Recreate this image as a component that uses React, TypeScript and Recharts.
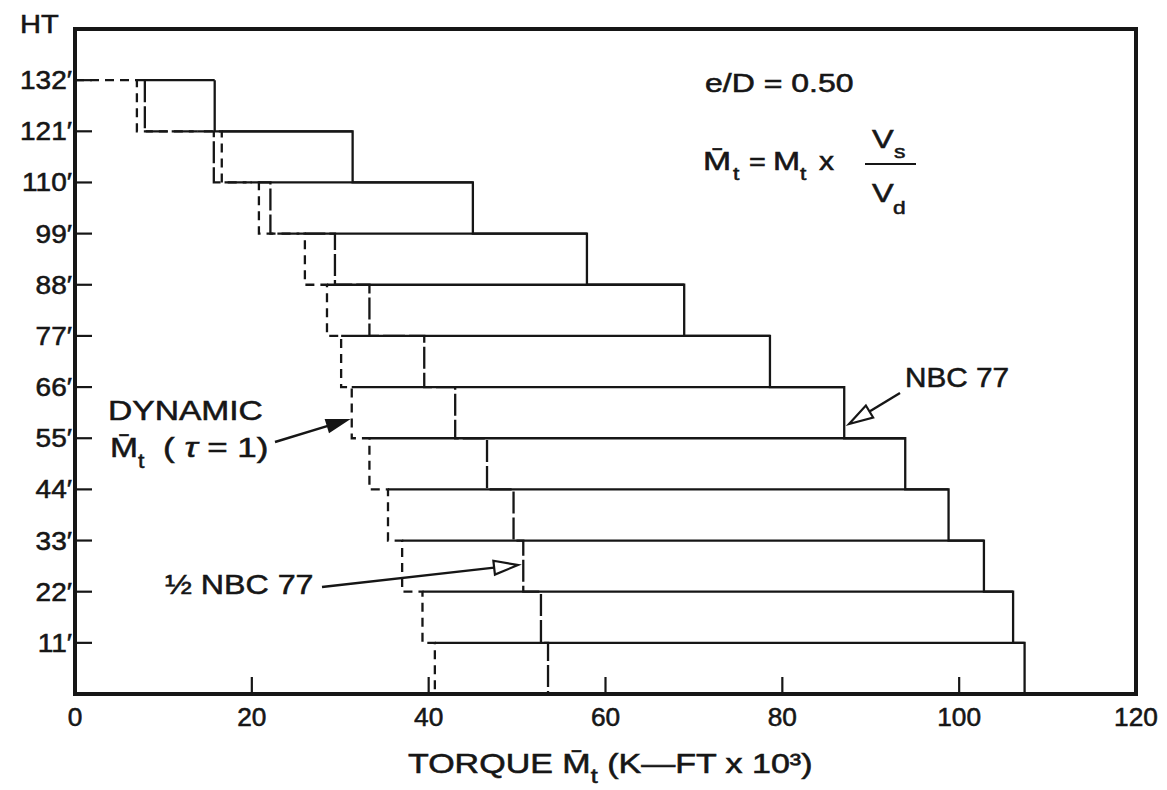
import React from "react";
import { LineChart, Line, XAxis, YAxis, ReferenceArea, Customized } from "recharts";

const INK = "#161616";
const FONT = "'Liberation Sans', Arial, Helvetica, sans-serif";

// floor levels from roof to grade (ft); storey i spans floors[i] .. floors[i + 1]
const floors = [132, 121, 110, 99, 88, 77, 66, 55, 44, 33, 22, 11, 0];

// storey torque, K-FT x 10^3
const dynamicMt = [7.0, 16.6, 20.8, 26.0, 28.5, 30.1, 31.3, 33.3, 35.4, 37.0, 39.3, 40.7];
const halfNbc77 = [7.9, 15.7, 22.1, 29.4, 33.3, 39.5, 43.0, 46.6, 49.6, 50.7, 52.7, 53.5];
const nbc77 = [15.8, 31.4, 45.0, 57.9, 68.9, 78.6, 87.0, 93.9, 98.8, 102.8, 106.1, 107.4];

const xTicks = [0, 20, 40, 60, 80, 100, 120];
const htTicks = [11, 22, 33, 44, 55, 66, 77, 88, 99, 110, 121, 132];

type Pt = { x: number; y: number | null };

const stairs = (vals: number[], fromZero = false): Pt[] => {
  const pts: Pt[] = fromZero ? [{ x: 0, y: floors[0] }] : [];
  vals.forEach((v, i) => {
    pts.push({ x: v, y: floors[i] }, { x: v, y: floors[i + 1] });
  });
  return pts;
};

// top edge of each storey box: from the dynamic value out to NBC 77
const storeyTops: Pt[] = nbc77.flatMap((v, i) => [
  { x: dynamicMt[i], y: floors[i] },
  { x: v, y: floors[i] },
  { x: v, y: null },
]);

const dynPts = stairs(dynamicMt, true);
const halfPts = stairs(halfNbc77);
const nbcPts = stairs(nbc77);

const TICK_LEN = 17;

// text in the scan is a wide, slightly heavy grotesque
function Txt({ x, y, size = 25, sx = 1.15, anchor = "start", children }: any) {
  return (
    <text
      transform={`translate(${x} ${y}) scale(${sx} 1)`}
      textAnchor={anchor}
      fontSize={size}
      fontFamily={FONT}
      fill={INK}
      stroke={INK}
      strokeWidth={0.55}
    >
      {children}
    </text>
  );
}

const LeftTick = (p: any) => {
  const ax = p.x + 3;
  return (
    <g>
      <line x1={ax} x2={ax + TICK_LEN} y1={p.y} y2={p.y} stroke={INK} strokeWidth={2.2} />
      <Txt x={p.x} y={p.y + 9} anchor="end" sx={1.12}>
        {p.payload.value}′
      </Txt>
    </g>
  );
};

const RightTick = (p: any) => (
  <line x1={p.x} x2={p.x - TICK_LEN} y1={p.y} y2={p.y} stroke={INK} strokeWidth={2.2} />
);

const BottomTick = (p: any) => {
  const v = p.payload.value;
  const inner = v !== 0 && v !== 120;
  return (
    <g>
      {inner && <line x1={p.x} x2={p.x} y1={p.y} y2={p.y - TICK_LEN} stroke={INK} strokeWidth={2.2} />}
      <Txt x={p.x} y={p.y + 32} anchor="middle" sx={1.05}>
        {v}
      </Txt>
    </g>
  );
};

const TopTick = (p: any) => {
  const v = p.payload.value;
  if (v === 0 || v === 120) return <g />;
  return <line x1={p.x} x2={p.x} y1={p.y} y2={p.y + TICK_LEN} stroke={INK} strokeWidth={2.2} />;
};

function Arrow({ from, to, open }: { from: [number, number]; to: [number, number]; open?: boolean }) {
  const [x1, y1] = from;
  const [x2, y2] = to;
  const a = Math.atan2(y2 - y1, x2 - x1);
  const len = open ? 24 : 20;
  const half = open ? 7 : 6;
  const bx = x2 - len * Math.cos(a);
  const by = y2 - len * Math.sin(a);
  const px = -Math.sin(a) * half;
  const py = Math.cos(a) * half;
  const head = `${x2},${y2} ${bx + px},${by + py} ${bx - px},${by - py}`;
  return (
    <g>
      <line x1={x1} y1={y1} x2={bx} y2={by} stroke={INK} strokeWidth={2.4} />
      <polygon points={head} fill={open ? "#fff" : INK} stroke={INK} strokeWidth={2.2} strokeLinejoin="miter" />
    </g>
  );
}

function Notes() {
  return (
    <g>
      <Txt x={20} y={33} size={26} sx={1.12}>HT</Txt>

      <Txt x={705} y={92} size={25} sx={1.28}>e/D = 0.50</Txt>

      <Txt x={703} y={170} size={25} sx={1.35}>M̄</Txt>
      <Txt x={733} y={180} size={19} sx={1.2}>t</Txt>
      <Txt x={749} y={170} size={25} sx={1.15}>=</Txt>
      <Txt x={773} y={170} size={25} sx={1.3}>M</Txt>
      <Txt x={800} y={180} size={19} sx={1.2}>t</Txt>
      <Txt x={819} y={170} size={25} sx={1.2}>x</Txt>
      <Txt x={872} y={148} size={25} sx={1.3}>V</Txt>
      <Txt x={894} y={158} size={19} sx={1.2}>s</Txt>
      <line x1={865} x2={916} y1={164} y2={164} stroke={INK} strokeWidth={2} />
      <Txt x={872} y={202} size={25} sx={1.3}>V</Txt>
      <Txt x={893} y={214} size={19} sx={1.2}>d</Txt>

      <Txt x={905} y={387} size={27} sx={1.1}>NBC 77</Txt>
      <Arrow from={[900, 393]} to={[849, 424]} open />

      <Txt x={108} y={420} size={28} sx={1.2}>DYNAMIC</Txt>
      <Txt x={110} y={457} size={28} sx={1.2}>M̄</Txt>
      <Txt x={138} y={468} size={20} sx={1.15}>t</Txt>
      <Txt x={163} y={457} size={28} sx={1.25}>
        ( <tspan fontStyle="italic">τ</tspan> = 1)
      </Txt>
      <Arrow from={[275, 442]} to={[347, 420]} />

      <Txt x={165} y={594} size={28} sx={1.15}>½ NBC 77</Txt>
      <Arrow from={[322, 587]} to={[518, 565]} open />

      <Txt x={408} y={773} size={27} sx={1.26}>
        TORQUE M̄<tspan fontSize={20} dy={10}>t</tspan>
        <tspan dy={-10}> (K—FT x 10³)</tspan>
      </Txt>
    </g>
  );
}

const frame = { stroke: INK, strokeWidth: 4 };

export default function App() {
  return (
    <div style={{ position: "absolute", left: 0, top: 0, width: 1167, height: 790, background: "#fff" }}>
      <LineChart width={1167} height={790} margin={{ top: 0, right: 0, bottom: 0, left: 0 }}>
        <XAxis
          type="number"
          dataKey="x"
          domain={[0, 120]}
          ticks={xTicks}
          interval={0}
          height={96}
          axisLine={frame}
          tickLine={false}
          tickSize={0}
          tickMargin={0}
          tick={BottomTick}
        />
        <XAxis
          xAxisId="top"
          orientation="top"
          type="number"
          dataKey="x"
          domain={[0, 120]}
          ticks={xTicks}
          interval={0}
          height={29}
          axisLine={frame}
          tickLine={false}
          tickSize={0}
          tickMargin={0}
          tick={TopTick}
        />
        <YAxis
          type="number"
          domain={[0, 143]}
          ticks={htTicks}
          interval={0}
          width={75}
          axisLine={frame}
          tickLine={false}
          tickSize={0}
          tickMargin={3}
          tick={LeftTick}
        />
        <YAxis
          yAxisId="right"
          orientation="right"
          type="number"
          domain={[0, 143]}
          ticks={htTicks}
          interval={0}
          width={31}
          axisLine={frame}
          tickLine={false}
          tickSize={0}
          tickMargin={0}
          tick={RightTick}
        />

        <ReferenceArea
          x1={0}
          x2={120}
          y1={0}
          y2={143}
          fill="none"
          fillOpacity={0}
          stroke={INK}
          strokeWidth={4}
          ifOverflow="visible"
        />

        <Line data={storeyTops} dataKey="y" stroke={INK} strokeWidth={2.3} dot={false} isAnimationActive={false} />
        <Line data={nbcPts} dataKey="y" stroke={INK} strokeWidth={2.3} dot={false} isAnimationActive={false} />
        <Line
          data={halfPts}
          dataKey="y"
          stroke={INK}
          strokeWidth={2.3}
          strokeDasharray="22 4"
          dot={false}
          isAnimationActive={false}
        />
        <Line
          data={dynPts}
          dataKey="y"
          stroke={INK}
          strokeWidth={2.3}
          strokeDasharray="9 6"
          dot={false}
          isAnimationActive={false}
        />

        <Customized component={Notes} />
      </LineChart>
    </div>
  );
}
